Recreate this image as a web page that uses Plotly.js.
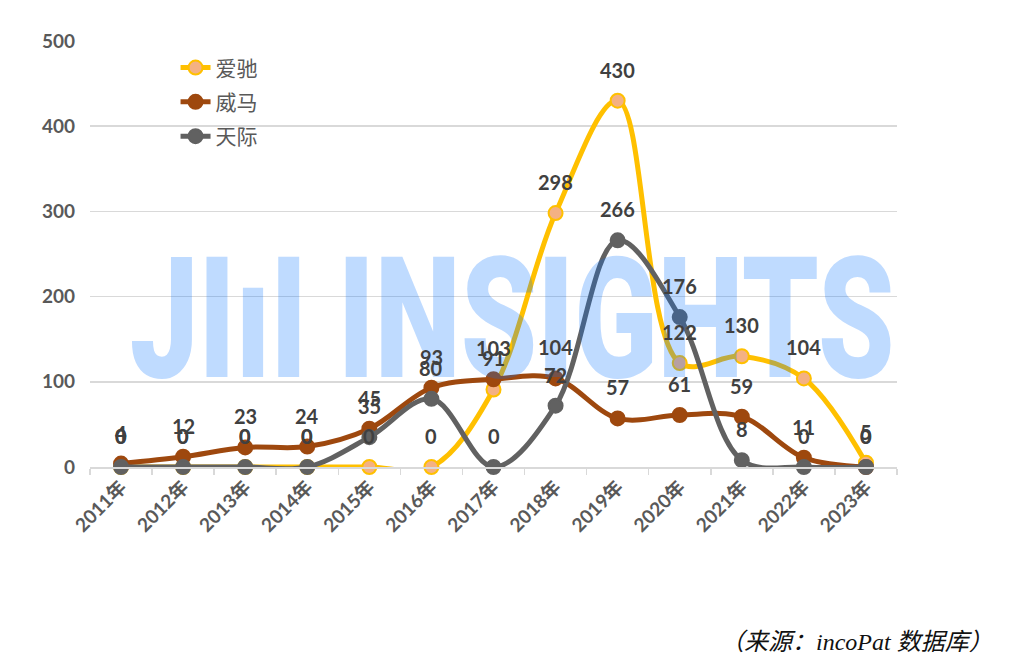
<!DOCTYPE html>
<html>
<head>
<meta charset="utf-8">
<script src="https://cdn.plot.ly/plotly-3.0.1.min.js"></script>
<style>
html,body{margin:0;padding:0;background:#fff;}
#chart{width:1014px;height:667px;}
</style>
</head>
<body>
<div id="chart"></div>
<script>
const years = ["2011年","2012年","2013年","2014年","2015年","2016年","2017年","2018年","2019年","2020年","2021年","2022年","2023年"];
const aichi = [0,0,0,0,0,0,91,298,430,122,130,104,5];
const weima = [4,12,23,24,45,93,103,104,57,61,59,11,0];
const tianji = [0,0,0,0,35,80,0,72,266,176,8,0,0];
const seriesNames = ["爱驰","威马","天际"];
const yTicks = [0,100,200,300,400,500];
const sourceText = "<span style='font-family:Noto Sans CJK SC'>（</span>来源：incoPat 数据库<span style='font-family:Noto Sans CJK SC'>）</span>";
const watermarkText = "JIıI INSIGHTS";

const lineColors = ["#FFC000","#9E480E","#616161"];
const markerFills = ["#F4B183","#9E480E","#616161"];
const allSeries = [aichi, weima, tianji];

const traces = allSeries.map((vals, k) => ({
  type: "scatter",
  mode: "lines+markers",
  name: seriesNames[k],
  legendgroup: "g" + k,
  x: years,
  y: vals,
  cliponaxis: false,
  line: {color: lineColors[k], width: 5, shape: "spline", smoothing: 1},
  marker: {size: 14, color: markerFills[k], line: {color: lineColors[k], width: 2}},
  hoverinfo: "skip"
}));

const annotations = [{
  xref: "paper", yref: "paper", x: 0.523, y: 0.347,
  xanchor: "center", yanchor: "middle", showarrow: false,
  text: watermarkText,
  font: {family: "Roboto, 'DejaVu Sans'", size: 168, color: "rgba(0,110,255,0.25)", weight: 900}
}];

allSeries.forEach((vals) => {
  vals.forEach((v, i) => {
    annotations.push({
      x: years[i], y: v, xref: "x", yref: "y",
      text: String(v), showarrow: false, yshift: 31,
      xanchor: "center", yanchor: "middle",
      font: {family: "Lato, 'Noto Sans'", size: 20, color: "#404040", weight: 700}
    });
  });
});

annotations.push({
  xref: "paper", yref: "paper", x: 1.122, y: -0.405,
  xanchor: "right", yanchor: "middle", showarrow: false,
  text: sourceText,
  font: {family: "'Liberation Serif', 'Noto Sans CJK SC'", size: 24, color: "#111111", style: "italic"}
});

const layout = {
  width: 1014, height: 667,
  margin: {l: 90, r: 117, t: 41, b: 200},
  paper_bgcolor: "#ffffff",
  plot_bgcolor: "#ffffff",
  showlegend: true,
  legend: {
    x: 0.106, y: 0.985, xanchor: "left", yanchor: "top",
    bgcolor: "rgba(0,0,0,0)",
    traceorder: "grouped", tracegroupgap: 4,
    font: {family: "'Noto Sans CJK SC', 'Noto Sans'", size: 21, color: "#595959"}
  },
  xaxis: {
    type: "category",
    range: [-0.5, 12.5],
    showgrid: false,
    showline: true, linecolor: "#D9D9D9", linewidth: 1.5,
    ticks: "outside", tickson: "boundaries", ticklen: 6, tickcolor: "#D9D9D9", tickwidth: 1.5,
    tickangle: -45,
    tickfont: {family: "Lato, 'Noto Sans CJK SC'", size: 19, color: "#595959", weight: 700},
    fixedrange: true
  },
  yaxis: {
    range: [0, 500],
    tickvals: yTicks,
    ticktext: yTicks.map(String),
    showgrid: true, gridcolor: "#D9D9D9", gridwidth: 1.5,
    zeroline: false,
    showline: false,
    ticks: "",
    ticklabelstandoff: 14,
    tickfont: {family: "Lato, 'Noto Sans'", size: 19, color: "#595959", weight: 700},
    fixedrange: true
  },
  annotations: annotations
};

Plotly.newPlot("chart", traces, layout, {displayModeBar: false, staticPlot: true}).then(() => {
  const t = document.querySelector(".annotation text");
  if (t) {
    const b = t.getBBox();
    const sx = 765 / b.width;
    const cx = b.x + b.width / 2;
    t.setAttribute("transform", "translate(" + cx + ",0) scale(" + sx + ",1) translate(" + (-cx) + ",0)");
  }
});
</script>
</body>
</html>
